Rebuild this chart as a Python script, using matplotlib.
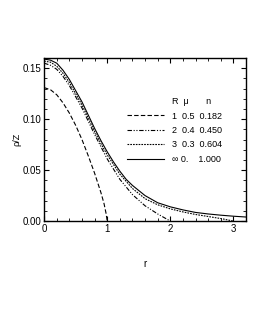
import numpy as np
import matplotlib
matplotlib.use("Agg")
import matplotlib.pyplot as plt
from matplotlib.lines import Line2D
from matplotlib.ticker import MultipleLocator

plt.rcParams['font.family'] = ['Liberation Sans', 'DejaVu Sans']
plt.rcParams['font.size'] = 7

# values
r1 = [0, 0.1, 0.2, 0.3, 0.4, 0.5, 0.6, 0.7, 0.8, 0.9, 0.95, 0.98, 1.0]
rho1 = [0.131, 0.129, 0.124, 0.116, 0.106, 0.094, 0.080, 0.064, 0.047, 0.028, 0.017, 0.008, 0.0]

r2 = [0, 0.1, 0.2, 0.3, 0.4, 0.5, 0.6, 0.7, 0.8, 0.9, 1.0, 1.2, 1.4, 1.6, 1.8, 1.9, 2.0]
rho2 = [0.155, 0.153, 0.149, 0.142, 0.133, 0.122, 0.111, 0.098, 0.085, 0.073, 0.061,
        0.041, 0.026, 0.015, 0.007, 0.0035, 0.0]

r3 = [0, 0.1, 0.2, 0.3, 0.4, 0.5, 0.6, 0.7, 0.8, 0.9, 1.0, 1.2, 1.4, 1.6, 1.8, 2.0,
      2.2, 2.4, 2.6, 2.8, 2.9, 3.0]
rho3 = [0.157, 0.156, 0.152, 0.145, 0.136, 0.125, 0.114, 0.101, 0.088, 0.076, 0.065,
        0.046, 0.032, 0.022, 0.016, 0.012, 0.009, 0.0065, 0.0045, 0.0025, 0.0013, 0.0]

r_inf = [0, 0.1, 0.2, 0.3, 0.4, 0.5, 0.6, 0.7, 0.8, 0.9, 1.0, 1.1, 1.2, 1.3, 1.4, 1.5,
         1.6, 1.8, 2.0, 2.2, 2.4, 2.6, 2.8, 3.0, 3.2]
rho_inf = [0.159, 0.158, 0.155, 0.148, 0.139, 0.128, 0.117, 0.104, 0.091, 0.079, 0.068,
           0.058, 0.049, 0.041, 0.035, 0.030, 0.025, 0.018, 0.014, 0.011, 0.0085,
           0.007, 0.0058, 0.0048, 0.004]

labels = ["1  0.5  0.182", "2  0.4  0.450", "3  0.3  0.604", "\u221e 0.    1.000"]
header = "R  \u03bc       n"

fig = plt.figure(figsize=(2.55, 3.3), dpi=100)
ax = fig.add_axes([0.173, 0.330, 0.792, 0.494])

l1, = ax.plot(r1, rho1, color='k', lw=0.8, ls=(0, (4, 2)))
l2, = ax.plot(r2, rho2, color='k', lw=0.8, ls=(0, (4, 1.5, 1, 1.5, 1, 1.5)))
l3, = ax.plot(r3, rho3, color='k', lw=0.8, ls=(0, (1.5, 1)))
l4, = ax.plot(r_inf, rho_inf, color='k', lw=0.8)

blank = Line2D([], [], color='none')
ax.legend([blank, l1, l2, l3, l4], [header] + labels, loc='upper left',
          bbox_to_anchor=(0.37, 0.81), frameon=False, handlelength=4.1,
          handletextpad=0.9, labelspacing=0.6, fontsize=6.5)

ax.set_xlim(0, 3.2)
ax.set_ylim(0, 0.16)
ax.xaxis.set_major_locator(MultipleLocator(1))
ax.xaxis.set_minor_locator(MultipleLocator(0.2))
ax.yaxis.set_major_locator(MultipleLocator(0.05))
ax.yaxis.set_minor_locator(MultipleLocator(0.01))
ax.yaxis.set_major_formatter(plt.FormatStrFormatter('%.2f'))
ax.tick_params(which='both', direction='in', top=True, right=True)
ax.tick_params(which='major', length=3.5, width=0.8, pad=2)
ax.tick_params(which='minor', length=2, width=0.6)
for s in ax.spines.values():
    s.set_linewidth(1.0)

ax.set_xlabel('r', labelpad=18)
ax.set_ylabel('\u03c1/Z', labelpad=1, fontsize=6.5)

fig.savefig('out.png', dpi=100)
